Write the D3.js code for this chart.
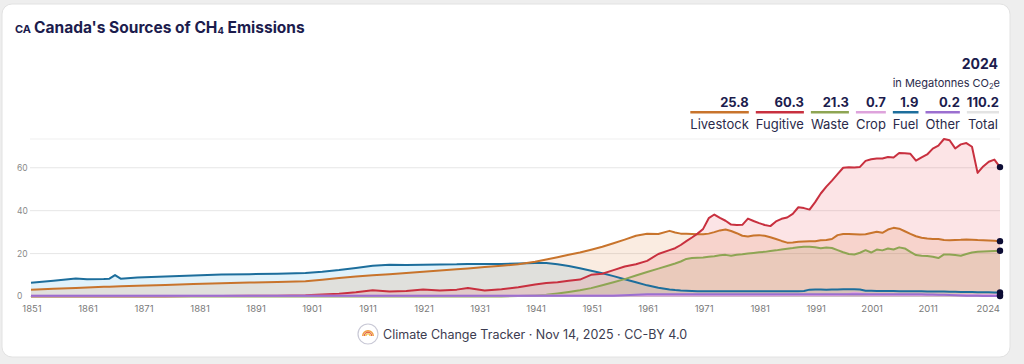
<!DOCTYPE html>
<html><head><meta charset="utf-8">
<script src="https://cdn.jsdelivr.net/npm/d3@7"></script>
<style>
html,body{margin:0;padding:0;background:#eeeeee;}
svg{display:block;font-family:Inter,"Noto Sans",sans-serif;}
</style></head><body>
<svg id="chart" width="1024" height="364"></svg>
<script>
// ---------- DATA ----------
const years = [1851,1855,1859,1861,1864,1865,1866,1867,1870,1875,1880,1885,1890,1895,1900,1903,1906,1909,1912,1915,1918,1921,1924,1927,1929,1932,1935,1938,1941,1943,1945,1947,1949,1951,1953,1955,1957,1959,1961,1963,1965,1966,1967,1968,1969,1970,
  1971,1972,1973,1974,1975,1976,1977,1978,1979,1980,1981,1982,1983,1984,1985,1986,1987,1988,1989,1990,
  1991,1992,1993,1994,1995,1996,1997,1998,1999,2000,2001,2002,2003,2004,2005,2006,2007,2008,2009,2010,
  2011,2012,2013,2014,2015,2016,2017,2018,2019,2020,2021,2022,2023,2024];

const livestock = [3.2,3.6,4.0,4.2,4.5,4.6,4.7,4.8,5.0,5.4,5.8,6.2,6.5,6.8,7.1,7.8,8.6,9.3,9.9,10.4,11.0,11.5,12.1,12.7,13.1,13.7,14.3,15.0,16.2,17.2,18.3,19.5,20.5,21.8,23.2,24.8,26.5,28.3,29.2,29.1,30.6,29.8,29.3,29.2,29.1,29.0,
  29.0,29.3,30.0,30.8,31.2,30.5,29.5,28.3,28.0,28.4,
  28.6,28.3,27.6,26.8,25.9,25.1,25.2,25.5,25.6,25.7,
  25.8,26.2,26.3,26.8,28.6,29.1,29.1,29.0,28.9,29.0,
  29.6,30.2,29.7,31.2,32.0,31.6,30.4,29.2,28.1,27.4,
  27.0,26.8,26.8,26.3,26.2,26.3,26.4,26.6,26.5,26.3,
  26.2,26.1,26.0,25.8];

const fugitive = [0.1,0.1,0.1,0.1,0.1,0.1,0.1,0.1,0.1,0.1,
  0.2,0.2,0.3,0.4,0.6,0.9,1.3,2.0,2.9,2.3,
  2.6,3.3,2.8,3.2,4.0,2.8,3.4,4.3,5.6,6.3,
  6.6,7.3,7.9,10.1,10.6,12.3,14.0,15.0,16.6,19.8,
  21.6,22.5,24.0,25.8,27.5,29.3,
  31.5,36.5,38.2,36.6,35.3,33.5,33.3,33.4,36.3,35.2,
  34.2,33.3,32.8,35.0,36.2,36.8,38.5,41.6,41.2,40.5,
  44.0,48.0,51.2,54.0,57.0,60.0,60.2,60.1,60.4,63.2,
  64.0,64.3,64.3,65.0,64.8,66.9,66.8,66.5,63.3,64.8,
  66.2,68.9,70.3,73.4,72.8,69.0,70.9,71.5,69.8,57.6,
  60.6,62.8,63.8,60.3];

const waste = [0.05,0.05,0.05,0.05,0.05,0.05,0.05,0.05,0.05,0.05,
  0.05,0.05,0.05,0.05,0.05,0.05,0.05,0.05,0.05,0.05,
  0.05,0.05,0.05,0.05,0.05,0.05,0.05,
  0.2,0.5,0.8,1.4,2.1,2.9,3.9,5.2,6.6,8.1,9.8,11.4,13.0,14.6,15.4,16.3,17.5,17.9,18.1,
  18.2,18.5,18.8,19.2,19.4,19.0,19.5,19.7,20.0,20.3,
  20.6,20.8,21.2,21.5,21.9,22.3,22.6,23.0,23.2,23.2,
  23.0,22.5,22.8,22.6,21.6,20.6,19.8,19.6,20.4,21.6,
  20.5,21.9,21.5,22.4,21.9,22.9,22.4,20.8,19.3,19.0,
  18.9,18.5,17.9,19.6,19.6,19.3,19.0,19.8,20.5,20.8,
  21.0,21.1,21.2,21.3];

const crop = [0.3,0.3,0.3,0.3,0.3,0.3,0.3,0.3,0.3,0.3,0.3,0.3,0.3,0.3,0.3,
  0.3,0.3,0.4,0.4,0.4,0.4,0.4,0.4,0.4,0.4,0.4,0.4,0.4,0.5,0.5,0.5,0.5,0.5,0.5,0.5,0.5,0.6,0.6,0.6,0.6,0.6,0.6,0.6,0.6,0.6,0.6,
  0.6,0.6,0.6,0.6,0.6,0.6,0.6,0.6,0.6,0.6,
  0.6,0.6,0.6,0.6,0.7,0.7,0.7,0.7,0.7,0.7,
  0.7,0.7,0.7,0.7,0.7,0.8,1.2,1.8,1.4,0.8,
  0.7,0.7,0.7,0.7,0.7,0.7,0.7,0.7,0.7,0.7,
  0.7,0.7,0.7,0.7,0.7,0.7,0.7,0.7,0.7,0.7,
  0.7,0.7,0.7,0.7];

const fuel = [6.4,7.3,8.4,8.0,8.1,8.3,10.0,8.3,8.8,9.3,9.8,10.2,10.4,10.6,10.9,11.5,12.3,13.3,14.3,14.8,14.7,14.8,14.9,15.0,15.2,15.1,15.2,15.4,15.6,15.6,15.0,14.2,13.2,12.0,10.8,9.5,8.0,6.6,5.2,4.1,3.3,3.0,2.8,2.7,2.6,2.5,
  2.5,2.4,2.4,2.4,2.4,2.4,2.4,2.4,2.4,2.4,
  2.4,2.4,2.4,2.5,2.5,2.5,2.5,2.5,2.6,3.2,
  3.3,3.3,3.2,3.3,3.3,3.4,3.4,3.4,3.3,2.7,
  2.7,2.6,2.6,2.6,2.6,2.5,2.5,2.4,2.4,2.4,
  2.3,2.3,2.3,2.3,2.2,2.2,2.1,2.1,2.1,2.0,
  2.0,2.0,1.9,1.9];

const other = [0.4,0.4,0.4,0.4,0.4,0.4,0.4,0.4,0.4,0.4,0.4,0.4,0.4,0.4,0.4,0.4,0.4,0.4,0.4,0.4,0.4,0.4,0.4,0.4,0.4,0.4,0.4,0.4,0.4,0.4,0.4,0.4,0.4,0.4,0.4,0.4,
  0.6,0.8,1.0,1.0,1.0,1.0,1.0,1.0,1.0,1.0,
  1.0,1.0,1.0,1.0,1.0,1.0,1.0,1.0,1.0,1.0,
  1.0,1.0,1.0,1.0,1.0,1.0,1.0,1.0,1.0,1.0,
  1.0,1.0,1.0,1.0,1.0,1.0,1.0,1.0,1.0,1.0,
  1.0,1.0,1.0,1.0,1.0,1.0,1.0,1.0,1.0,1.0,
  0.9,0.9,0.8,0.8,0.7,0.6,0.5,0.4,0.3,0.3,
  0.2,0.2,0.2,0.2];

const legendNames = ["Livestock","Fugitive","Waste","Crop","Fuel","Other","Total"];
const legendValues = ["25.8","60.3","21.3","0.7","1.9","0.2","110.2"];
const xTickYears = [1851,1861,1871,1881,1891,1901,1911,1921,1931,1941,1951,1961,1971,1981,1991,2001,2011,2024];
const yTickValues = [0,20,40,60];

// ---------- SETUP ----------
const colors = {Livestock:"#c8742c",Fugitive:"#c8303f",Waste:"#8ea553",Crop:"#dea3dc",Fuel:"#1d6e9c",Other:"#9b6fd0",Total:"#e3e3e3"};
const fills = {Livestock:"#d9792c",Fugitive:"#e8404f",Waste:"#8ea553",Crop:"#dea3dc",Fuel:"#2aa3dc",Other:"#9b6fd0"};
const series = [
  {name:"Fuel", values:fuel},
  {name:"Livestock", values:livestock},
  {name:"Waste", values:waste},
  {name:"Fugitive", values:fugitive},
  {name:"Crop", values:crop},
  {name:"Other", values:other}
];

const svg = d3.select("#chart");
// card
svg.append("rect").attr("x",2).attr("y",4).attr("width",1008).attr("height",353)
  .attr("rx",10).attr("fill","#ffffff").attr("stroke","#e2e2e2");

const navy = "#1c1c4d";
// title
const title = svg.append("text").attr("x",15).attr("y",33).attr("fill",navy)
  .attr("font-weight",700);
title.append("tspan").attr("font-size",11).text("CA");
title.append("tspan").attr("dx",3).attr("font-size",15.5).text("Canada's Sources of CH");
title.append("tspan").attr("font-size",9.5).attr("dy",1).text("4");
title.append("tspan").attr("font-size",15.5).attr("dy",-1).text(" Emissions");

const x = d3.scaleLinear().domain([1851,2024]).range([31,1000]);
const maxV = d3.max(series, s => d3.max(s.values));
const y = d3.scaleLinear().domain([0,maxV]).range([296.5,139]);

// gridlines
const g = svg.append("g");
g.selectAll("line.grid").data(yTickValues).join("line")
  .attr("x1",30).attr("x2",1000)
  .attr("y1",d=>y(d)).attr("y2",d=>y(d))
  .attr("stroke","#e6e6e6").attr("stroke-width",1);
g.append("line").attr("x1",30).attr("x2",1000).attr("y1",y(maxV)).attr("y2",y(maxV))
  .attr("stroke","#efefef");

// y labels
g.selectAll("text.ylab").data(yTickValues).join("text")
  .attr("x",17).attr("y",d=>y(d)).attr("dy","0.35em")
  .attr("font-size",8.5).attr("fill","#8a8a8a").text(d=>d);

// x labels
g.selectAll("text.xlab").data(xTickYears).join("text")
  .attr("x",d=> d===2024 ? x(d) : x(d)+1)
  .attr("y",312)
  .attr("text-anchor",d=> d===2024 ? "end" : "middle")
  .attr("font-size",9.5).attr("fill","#7a7a7a").text(d=>d);

// areas
const area = d3.area().x((d,i)=>x(years[i])).y0(y(0)).y1(d=>y(d)).curve(d3.curveLinear);
const line = d3.line().x((d,i)=>x(years[i])).y(d=>y(d)).curve(d3.curveLinear);

svg.append("g").selectAll("path").data(series).join("path")
  .attr("d",s=>area(s.values)).attr("fill",s=>fills[s.name]).attr("fill-opacity",0.14);

svg.append("g").selectAll("path").data(series).join("path")
  .attr("d",s=>line(s.values)).attr("fill","none").attr("stroke",s=>colors[s.name])
  .attr("stroke-width",2).attr("stroke-linejoin","round");

// end dots
svg.append("g").selectAll("circle").data(series).join("circle")
  .attr("cx",x(2024)).attr("cy",s=>y(s.values[s.values.length-1])).attr("r",3.2)
  .attr("fill","#0d0d35");

// legend
svg.append("text").attr("x",998).attr("y",69).attr("text-anchor","end")
  .attr("font-size",14).attr("font-weight",700).attr("fill",navy).text("2024");
const unit = svg.append("text").attr("x",1000).attr("y",87).attr("text-anchor","end")
  .attr("font-size",11).attr("fill","#2a2a4a");
unit.append("tspan").text("in Megatonnes CO");
unit.append("tspan").attr("font-size",7.5).attr("dy",2).text("2");
unit.append("tspan").attr("dy",-2).text("e");

const lg = svg.append("g");
const nameEls = legendNames.map(n => lg.append("text").attr("y",129).attr("font-size",13)
  .attr("fill","#2a2a4a").text(n));
const valEls = legendValues.map(v => lg.append("text").attr("y",107).attr("text-anchor","end")
  .attr("font-size",13).attr("font-weight",700).attr("fill",navy).text(v));
const widths = legendNames.map((n,i) => Math.max(nameEls[i].node().getComputedTextLength(), valEls[i].node().getComputedTextLength()));
let right = 999;
const gap = 7;
const lefts = new Array(legendNames.length);
for (let i = legendNames.length-1; i>=0; i--) {
  lefts[i] = right - widths[i];
  right = lefts[i] - gap;
}
legendNames.forEach((n,i)=>{
  nameEls[i].attr("x",lefts[i] + (widths[i]-nameEls[i].node().getComputedTextLength())/2);
  valEls[i].attr("x",lefts[i]+widths[i]);
  lg.append("rect").attr("x",lefts[i]).attr("y",111).attr("width",widths[i]).attr("height",2.5)
    .attr("fill",colors[n]);
});

// footer
const fx = 368, fy = 334;
svg.append("circle").attr("cx",fx).attr("cy",fy).attr("r",10).attr("fill","#fff")
  .attr("stroke","#c9c9d6").attr("stroke-width",1.2);
const arcCols = ["#f0a040","#e66a4a","#f2c24a"];
[6,4.4,2.8].forEach((r,i)=>{
  svg.append("path").attr("d",d3.arc()({innerRadius:r-1.4,outerRadius:r,startAngle:-Math.PI/2,endAngle:Math.PI/2}))
    .attr("transform",`translate(${fx},${fy+2})`).attr("fill",arcCols[i]);
});
svg.append("text").attr("x",383).attr("y",338.5).attr("font-size",12.5).attr("fill","#3c3c50")
  .text("Climate Change Tracker · Nov 14, 2025 · CC-BY 4.0");
</script>
</body></html>
